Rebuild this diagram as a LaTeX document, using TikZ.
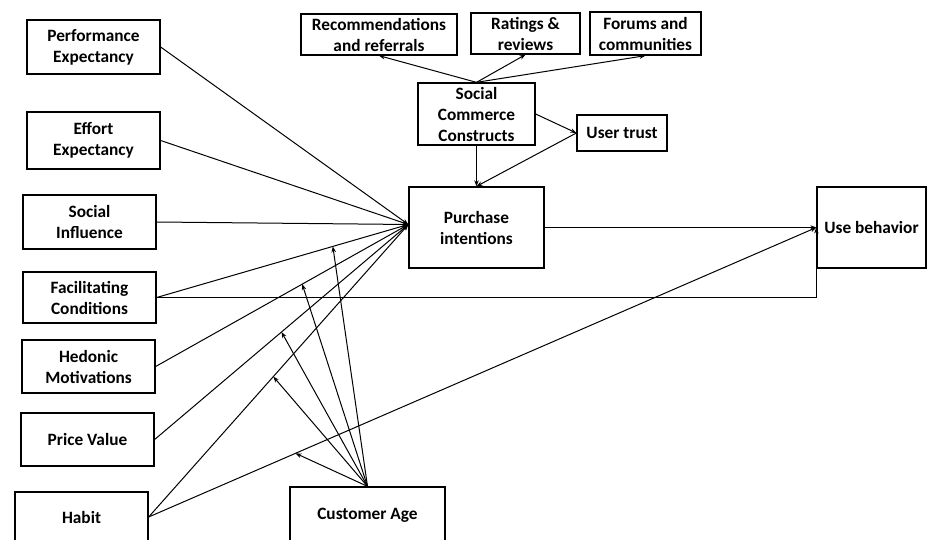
\documentclass[tikz,border=0pt]{standalone}
\usepackage{fontspec}
\setmainfont{Carlito}
\usepackage{tikz}
\usetikzlibrary{arrows.meta,calc}

\begin{document}
\begin{tikzpicture}[x=1pt, y=-1pt, >={Stealth[length=6pt,width=4.5pt]},
    box/.style={draw, line width=1.3pt, align=center, inner sep=0pt,
        font=\fontsize{17.3}{21}\selectfont\bfseries},
    link/.style={line width=1pt}]
    \clip (0,0) rectangle (928,540);

    % left-hand constructs
    \node[box, minimum width=133, minimum height=54] (perf) at (93.5,47) {Performance\\Expectancy};
    \node[box, minimum width=133, minimum height=57] (effort) at (93.5,140.5) {Effort\\Expectancy};
    \node[box, minimum width=133, minimum height=54] (social) at (89.5,222) {Social\\Influence};
    \node[box, minimum width=133, minimum height=51] (facil) at (89.5,297.5) {Facilitating\\Conditions};
    \node[box, minimum width=133, minimum height=53] (hedonic) at (88.5,366.5) {Hedonic\\Motivations};
    \node[box, minimum width=133, minimum height=53] (price) at (87.5,439.5) {Price Value};
    \node[box, minimum width=133, minimum height=50] (habit) at (81.5,517) {Habit};
    \node[box, minimum width=155, minimum height=56] (custage) at (367.5,515) {Customer Age};

    % social commerce part
    \node[box, minimum width=156, minimum height=41] (recom) at (379,34.5) {Recommendations\\and referrals};
    \node[box, minimum width=109, minimum height=41] (ratings) at (525.5,33.5) {Ratings \&\\reviews};
    \node[box, minimum width=111, minimum height=43] (forums) at (645.5,33.5) {Forums and\\communities};
    \node[box, minimum width=117, minimum height=62] (scc) at (476.5,114) {Social\\Commerce\\Constructs};
    \node[box, minimum width=90, minimum height=36] (trust) at (622,133) {User trust};

    % outcomes
    \node[box, minimum width=135, minimum height=81] (purchase) at (476.5,227.5) {Purchase\\intentions};
    \node[box, minimum width=109, minimum height=81] (usebeh) at (871.5,227.5) {Use behavior};
    \coordinate (hub) at ($(purchase.west)+(0,-3)$);

    \draw[link, ->] (perf.east) -- (hub);
    \draw[link, ->] (effort.east) -- (hub);
    \draw[link, ->] (social.east) -- (hub);
    \draw[link, ->] (facil.east) -- (hub) coordinate[pos=0.70] (m1);
    \draw[link, ->] (hedonic.east) -- (hub) coordinate[pos=0.58] (m2);
    \draw[link, ->] (price.east) -- (hub) coordinate[pos=0.50] (m3);
    \draw[link, ->] (habit.east) -- (hub) coordinate[pos=0.48] (m4);
    \draw[link, ->] (habit.east) -- (usebeh.west) coordinate[pos=0.22] (m5);
    \draw[link, ->] (facil.east) -- (facil.east -| usebeh.west) -- (usebeh.west);
    \draw[link, ->] (purchase.east) -- (usebeh.west);

    % moderator
    \draw[link, ->] (custage.north) -- (m1);
    \draw[link, ->] (custage.north) -- (m2);
    \draw[link, ->] (custage.north) -- (m3);
    \draw[link, ->] (custage.north) -- (m4);
    \draw[link, ->] (custage.north) -- (m5);

    \draw[link, ->] (scc.north) -- (recom.south);
    \draw[link, ->] (scc.north) -- (ratings.south);
    \draw[link, ->] (scc.north) -- (forums.south);
    \draw[link, ->] (scc.east) -- (trust.west);
    \draw[link, ->] (scc.south) -- (purchase.north);
    \draw[link, ->] (trust.west) -- (purchase.north);
\end{tikzpicture}
\end{document}
